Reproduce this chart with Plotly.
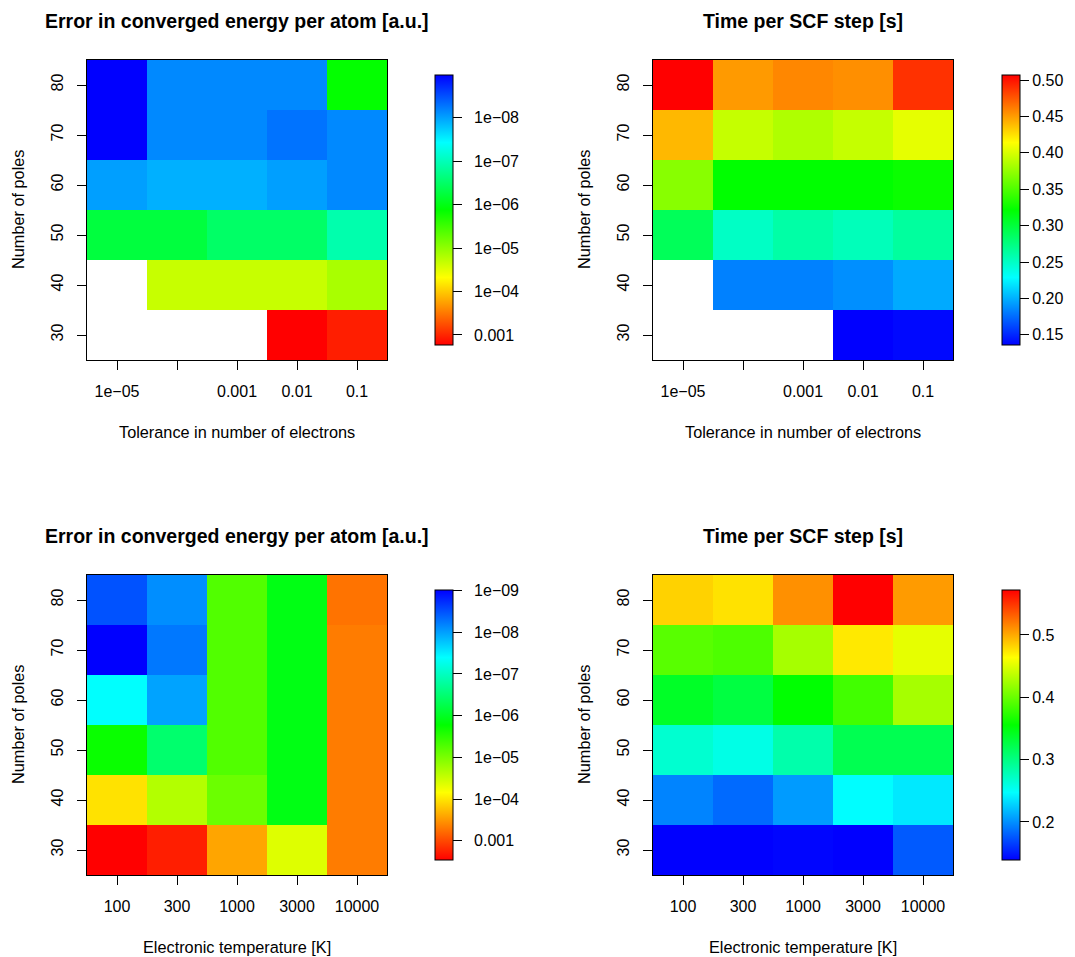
import math
import plotly.graph_objects as go

# ---------------- data ----------------
poles = [30, 40, 50, 60, 70, 80]
tolerance = [1e-5, 1e-4, 1e-3, 1e-2, 1e-1]
tol_labels = ["1e\u221205", "", "0.001", "0.01", "0.1"]
temperature = [100, 300, 1000, 3000, 10000]
temp_labels = ["100", "300", "1000", "3000", "10000"]

# rows: poles 30..80 ; columns: tolerance 1e-5..1e-1
err_tol = [
    [None, None, None, 1.7e-3, 1.12e-3],
    [None, 2.16e-5, 2.16e-5, 2.16e-5, 1.42e-5],
    [5.6e-7, 5.6e-7, 3.2e-7, 3.2e-7, 1.19e-7],
    [9.7e-9, 1.23e-8, 1.23e-8, 9.7e-9, 7.2e-9],
    [1.05e-9, 7.2e-9, 7.2e-9, 5.3e-9, 7.2e-9],
    [1.05e-9, 7.2e-9, 7.2e-9, 7.2e-9, 1.4e-6],
]
time_tol = [
    [None, None, None, 0.136, 0.139],
    [None, 0.183, 0.183, 0.188, 0.198],
    [0.289, 0.250, 0.261, 0.254, 0.264],
    [0.371, 0.3215, 0.3215, 0.3215, 0.325],
    [0.440, 0.393, 0.385, 0.393, 0.405],
    [0.507, 0.451, 0.458, 0.455, 0.489],
]
# rows: poles 30..80 ; columns: temperature 100..10000
err_temp = [
    [2.9e-3, 1.86e-3, 2.6e-4, 4.3e-5, 4.7e-4],
    [1.07e-4, 2.3e-5, 8.0e-6, 1.26e-6, 4.7e-4],
    [1.9e-6, 3.4e-7, 5.5e-6, 1.26e-6, 4.7e-4],
    [4.1e-8, 1.05e-8, 5.5e-6, 1.26e-6, 4.7e-4],
    [0.97e-9, 5.6e-9, 5.5e-6, 1.26e-6, 4.7e-4],
    [3.2e-9, 7.7e-9, 5.5e-6, 1.26e-6, 5.4e-4],
]
time_temp = [
    [0.139, 0.139, 0.141, 0.139, 0.177],
    [0.195, 0.184, 0.205, 0.247, 0.238],
    [0.267, 0.258, 0.283, 0.321, 0.321],
    [0.339, 0.328, 0.355, 0.383, 0.426],
    [0.393, 0.388, 0.426, 0.473, 0.453],
    [0.483, 0.476, 0.511, 0.572, 0.506],
]

err_ticks = [1e-3, 1e-4, 1e-5, 1e-6, 1e-7, 1e-8, 1e-9]
err_tick_labels = ["0.001", "1e\u221204", "1e\u221205", "1e\u221206",
                   "1e\u221207", "1e\u221208", "1e\u221209"]

# ---------------- layout helpers ----------------
W, H = 1075, 957
FONT = "Liberation Sans, Arial, Helvetica, sans-serif"

rainbow = [[0.0, "rgb(0,0,255)"], [0.25, "rgb(0,255,255)"], [0.5, "rgb(0,255,0)"],
           [0.75, "rgb(255,255,0)"], [1.0, "rgb(255,0,0)"]]
rainbow_rev = [[1 - p, c] for p, c in reversed(rainbow)]


def px_x(v):
    return v / W


def px_y(v):
    return 1 - v / H


def neglog(m):
    return [[None if v is None else -math.log10(v) for v in row] for row in m]


def flat(m):
    return [v for row in m for v in row if v is not None]


panels = [
    # (left, top, z, is_error, xlabels, title, xtitle, cb_top)
    dict(left=87, top=60, z=err_tol, err=True, xl=tol_labels,
         title="Error in converged energy per atom [a.u.]",
         xt="Tolerance in number of electrons", cbx=435, cbtop=75),
    dict(left=653, top=60, z=time_tol, err=False, xl=tol_labels,
         title="Time per SCF step [s]",
         xt="Tolerance in number of electrons", cbx=1002, cbtop=75,
         tv=[0.15, 0.20, 0.25, 0.30, 0.35, 0.40, 0.45, 0.50], tf=".2f"),
    dict(left=87, top=575, z=err_temp, err=True, xl=temp_labels,
         title="Error in converged energy per atom [a.u.]",
         xt="Electronic temperature [K]", cbx=435, cbtop=590),
    dict(left=653, top=575, z=time_temp, err=False, xl=temp_labels,
         title="Time per SCF step [s]",
         xt="Electronic temperature [K]", cbx=1002, cbtop=590,
         tv=[0.2, 0.3, 0.4, 0.5], tf=".1f"),
]

PW, PH = 300, 300
CBLEN = 270

fig = go.Figure()
annotations = []
xs = list(range(1, 6))

for i, p in enumerate(panels, start=1):
    sfx = "" if i == 1 else str(i)
    if p["err"]:
        z = neglog(p["z"])
        zv = flat(z)
        cb_vals = [-math.log10(t) for t in err_ticks]
        cb_text = err_tick_labels
        cs = rainbow_rev
        tickformat = None
    else:
        z = p["z"]
        zv = flat(z)
        cb_vals = p["tv"]
        cb_text = None
        cs = rainbow
        tickformat = p["tf"]
    cb = dict(
        x=px_x(p["cbx"]), xanchor="left", xpad=0, ypad=0,
        y=px_y(p["cbtop"] + CBLEN / 2), yanchor="middle",
        len=CBLEN, lenmode="pixels", thickness=18, thicknessmode="pixels",
        outlinewidth=1, outlinecolor="black",
        ticks="outside", ticklen=9, tickwidth=1, tickcolor="black",
        tickvals=cb_vals, tickprefix="\u00a0\u00a0",
        tickfont=dict(family=FONT, size=16, color="black"),
    )
    if cb_text is not None:
        cb["ticktext"] = ["\u00a0\u00a0" + t for t in cb_text]
        cb["tickprefix"] = ""
    if tickformat:
        cb["tickformat"] = tickformat
    fig.add_trace(go.Heatmap(
        x=xs, y=poles, z=z, colorscale=cs, zmin=min(zv), zmax=max(zv),
        xaxis="x" + sfx, yaxis="y" + sfx, colorbar=cb, hoverongaps=False,
    ))
    x0, x1 = px_x(p["left"]), px_x(p["left"] + PW)
    y1, y0 = px_y(p["top"]), px_y(p["top"] + PH)
    axcommon = dict(showline=True, linecolor="black", linewidth=1, mirror=True,
                    showgrid=False, zeroline=False, ticks="outside", ticklen=9,
                    tickwidth=1, tickcolor="black", ticklabelstandoff=8,
                    tickfont=dict(family=FONT, size=16, color="black"))
    fig.update_layout(**{
        "xaxis" + sfx: dict(domain=[x0, x1], anchor="y" + sfx, range=[0.5, 5.5],
                            tickvals=xs, ticktext=p["xl"], **axcommon),
        "yaxis" + sfx: dict(domain=[y0, y1], anchor="x" + sfx, range=[25, 85],
                            tickvals=poles, tickangle=-90, **axcommon),
    })
    cx = p["left"] + PW / 2
    annotations.append(dict(text="<b>" + p["title"] + "</b>", x=px_x(cx),
                            y=px_y(p["top"] - 39), xref="paper", yref="paper",
                            showarrow=False, xanchor="center", yanchor="middle",
                            font=dict(family=FONT, size=19.5, color="black")))
    annotations.append(dict(text=p["xt"], x=px_x(cx), y=px_y(p["top"] + PH + 72),
                            xref="paper", yref="paper", showarrow=False,
                            xanchor="center", yanchor="middle",
                            font=dict(family=FONT, size=16.3, color="black")))
    annotations.append(dict(text="Number of poles", x=px_x(p["left"] - 69),
                            y=px_y(p["top"] + PH / 2), xref="paper", yref="paper",
                            showarrow=False, xanchor="center", yanchor="middle",
                            textangle=-90,
                            font=dict(family=FONT, size=16.3, color="black")))

fig.update_layout(
    width=W, height=H, margin=dict(l=0, r=0, t=0, b=0),
    paper_bgcolor="white", plot_bgcolor="white",
    font=dict(family=FONT, size=16, color="black"),
    annotations=annotations, showlegend=False,
)

fig.write_html("out.html")
